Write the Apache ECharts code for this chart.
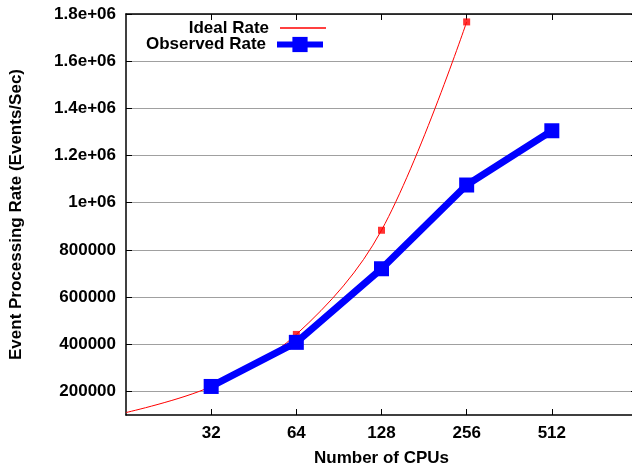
<!DOCTYPE html>
<html>
<head>
<meta charset="utf-8">
<script src="https://cdn.jsdelivr.net/npm/echarts@6/dist/echarts.min.js"></script>
<style>
html,body{margin:0;padding:0;background:#fff;}
#chart{width:632px;height:468px;}
</style>
</head>
<body>
<div id="chart"></div>
<script>
// ---- data ----
const cpus = [16, 32, 64, 128, 256];
const idealRate = [110400, 220800, 441600, 883200, 1766400];
const idealPointCpus = [32, 64, 128, 256];
const idealPointRate = [220800, 441600, 883200, 1766400];
const observedCpus = [32, 64, 128, 256, 512];
const observedRate = [221000, 408000, 720000, 1075000, 1305000];
const xTickValues = [32, 64, 128, 256, 512];
const xTickLabels = ['32', '64', '128', '256', '512'];
const yTickValues = [200000, 400000, 600000, 800000, 1000000, 1200000, 1400000, 1600000, 1800000];
const yTickLabels = ['200000', '400000', '600000', '800000', '1e+06', '1.2e+06', '1.4e+06', '1.6e+06', '1.8e+06'];

const FONT = "'Liberation Sans', Arial, sans-serif";
const zip = (a, b) => a.map((v, i) => [v, b[i]]);
const chart = echarts.init(document.getElementById('chart'));

const xBase = {
  type: 'log', logBase: 2, min: 16, max: 1024,
  axisLine: { show: true, lineStyle: { color: '#000', width: 1.5 } },
  splitLine: { show: false },
  minorTick: { show: false }
};
const textBold = { fontFamily: FONT, fontWeight: 'bold', fontSize: 17, color: '#000' };

chart.setOption({
  animation: false,
  backgroundColor: '#fff',
  grid: { left: 126, right: -5, top: 14, bottom: 53, containLabel: false, outerBoundsMode: 'none' },
  xAxis: [
    Object.assign({}, xBase, {
      position: 'bottom',
      name: 'Number of CPUs', nameLocation: 'middle', nameGap: 35,
      nameTextStyle: textBold,
      axisTick: { show: true, inside: true, length: 6, customValues: xTickValues, lineStyle: { color: '#000' } },
      axisLabel: Object.assign({
        customValues: xTickValues, margin: 10,
        formatter: v => xTickLabels[xTickValues.indexOf(v)] ?? ''
      }, textBold)
    }),
    Object.assign({}, xBase, {
      position: 'top',
      axisTick: { show: true, inside: true, length: 6, customValues: xTickValues, lineStyle: { color: '#000' } },
      axisLabel: { show: false }
    })
  ],
  yAxis: [
    {
      type: 'value', min: 100000, max: 1800000,
      name: 'Event Processing Rate (Events/Sec)', nameLocation: 'middle', nameGap: 101,
      nameTextStyle: textBold,
      axisLine: { show: true, lineStyle: { color: '#000', width: 1.5 } },
      axisTick: { show: true, inside: true, length: 6, customValues: yTickValues, lineStyle: { color: '#000' } },
      splitLine: { show: true, lineStyle: { color: '#a0a0a0', width: 1 } },
      axisLabel: Object.assign({
        customValues: yTickValues, margin: 10,
        formatter: v => yTickLabels[yTickValues.indexOf(v)] ?? ''
      }, textBold)
    },
    {
      type: 'value', min: 100000, max: 1800000, position: 'right',
      axisLine: { show: true, lineStyle: { color: '#000', width: 1.5 } },
      axisTick: { show: true, inside: true, length: 6, customValues: yTickValues, lineStyle: { color: '#000' } },
      axisLabel: { show: false },
      splitLine: { show: false }
    }
  ],
  legend: [
    {
      data: [{ name: 'Ideal Rate', icon: 'rect' }], orient: 'vertical', align: 'right',
      right: 306, top: 19, itemWidth: 46, itemHeight: 1.5, padding: 0,
      itemStyle: { color: '#ff0000' },
      textStyle: Object.assign({ padding: [0, 6, 0, 0], lineHeight: 18 }, textBold)
    },
    {
      data: ['Observed Rate'], orient: 'vertical', align: 'right',
      right: 306, top: 36, itemWidth: 46, itemHeight: 19, padding: 0,
      lineStyle: { width: 6, color: '#0000ff' },
      textStyle: Object.assign({ padding: [0, 6, 0, 0] }, textBold)
    }
  ],
  series: [
    {
      name: 'Ideal Rate', type: 'line', data: zip(cpus, idealRate),
      smooth: 0.35, symbol: 'none',
      lineStyle: { color: '#ff0000', width: 1 }, itemStyle: { color: '#ff0000' }, z: 2
    },
    {
      name: 'Ideal Points', type: 'scatter', data: zip(idealPointCpus, idealPointRate),
      symbol: 'rect', symbolSize: 7, itemStyle: { color: '#ff0000' }, z: 3
    },
    {
      name: 'Observed Rate', type: 'line', data: zip(observedCpus, observedRate),
      symbol: 'rect', symbolSize: 15,
      lineStyle: { color: '#0000ff', width: 7 }, itemStyle: { color: '#0000ff' }, z: 4
    }
  ]
});
</script>
</body>
</html>
